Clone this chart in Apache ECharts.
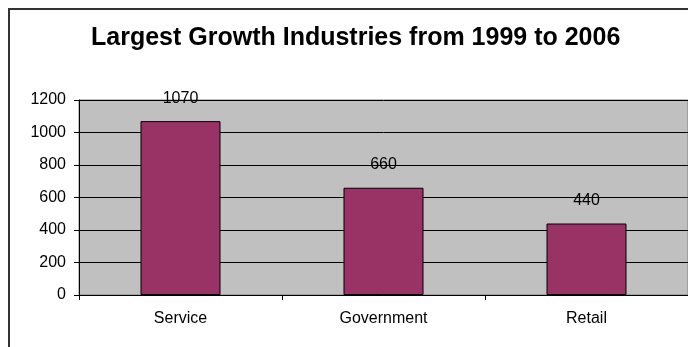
<!DOCTYPE html>
<html>
<head>
<meta charset="utf-8">
<script src="https://cdn.jsdelivr.net/npm/echarts@6/dist/echarts.min.js"></script>
<style>
  html, body { margin: 0; padding: 0; background: #fff; }
  #main_chart { width: 688px; height: 347px; }
</style>
</head>
<body>
<div id="main_chart"></div>
<script>
var titleText = 'Largest Growth Industries from 1999 to 2006';
var categories = ['Service', 'Government', 'Retail'];
var growth = [1070, 660, 440];

var chart = echarts.init(document.getElementById('main_chart'));

var option = {
    animation: false,
    backgroundColor: '#fff',
    title: {
        text: titleText,
        left: 91,
        top: 26,
        padding: 0,
        textStyle: { fontFamily: 'Liberation Sans', fontSize: 25, fontWeight: 'bold', color: '#000' }
    },
    // outer chart frame (only top/left visible in the crop)
    graphic: [{
        type: 'rect',
        shape: { x: 9, y: 9, width: 720, height: 400 },
        style: { fill: 'none', stroke: '#333', lineWidth: 2 }
    }],
    grid: {
        left: 79, top: 100, width: 612, height: 195,
        show: true,
        backgroundColor: '#c0c0c0',
        borderColor: '#808080',
        borderWidth: 1,
        containLabel: false
    },
    xAxis: {
        type: 'category',
        data: categories,
        boundaryGap: true,
        axisLine: { lineStyle: { color: '#000', width: 1 } },
        axisTick: { show: true, length: 5, lineStyle: { color: '#000' } },
        axisLabel: { margin: 16, fontFamily: 'Liberation Sans', fontSize: 16, color: '#000' }
    },
    yAxis: {
        type: 'value',
        min: 0, max: 1200, interval: 200,
        axisLine: { show: true, lineStyle: { color: '#000', width: 1 } },
        axisTick: { show: true, length: 5, lineStyle: { color: '#000' } },
        axisLabel: {
            margin: 13, fontFamily: 'Liberation Sans', fontSize: 16, color: '#000',
            formatter: function (v) { return String(v); }
        },
        splitLine: { lineStyle: { color: '#000', width: 1 } }
    },
    series: [{
        name: 'Growth',
        type: 'bar',
        data: growth,
        barWidth: 80,
        itemStyle: { color: '#993366', borderColor: '#000', borderWidth: 1 },
        label: {
            show: true, position: 'top', distance: 15,
            fontFamily: 'Liberation Sans', fontSize: 16, color: '#000'
        }
    }]
};

chart.setOption(option);
</script>
</body>
</html>
